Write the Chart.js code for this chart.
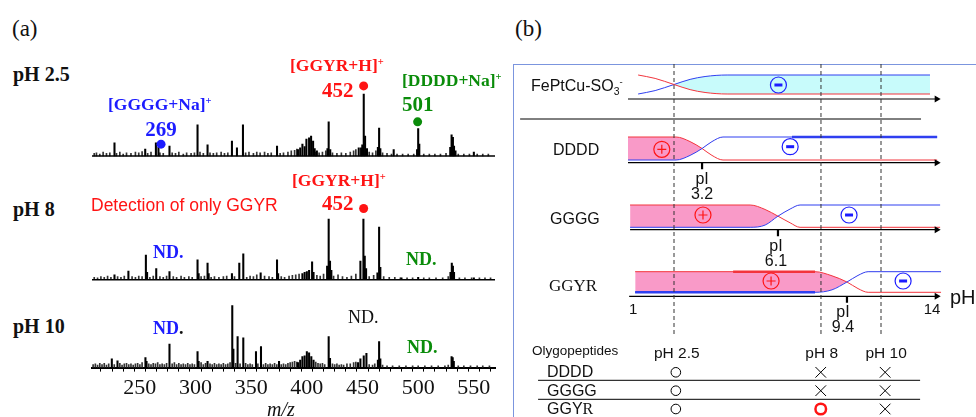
<!DOCTYPE html>
<html>
<head>
<meta charset="utf-8">
<title>MALDI spectra and charge states</title>
<script src="https://cdn.jsdelivr.net/npm/chart.js@4.4.1/dist/chart.umd.min.js"></script>
<style>
  html, body { margin: 0; padding: 0; background: #fff; }
  #page { position: relative; width: 976px; height: 417px; overflow: hidden;
          font-family: 'Liberation Sans', Arial, sans-serif; color: #111; }
  canvas { position: absolute; }
  #specChart { left: 80px; top: 70px; }
  #chargeChart { left: 513px; top: 64px; }
  #boxB { position: absolute; left: 513px; top: 64px; width: 600px; height: 600px;
          border-left: 1px solid #7b95de; border-top: 1px solid #7b95de; }
  .lbl { position: absolute; white-space: nowrap; line-height: 1; }
  .serif { font-family: 'Liberation Serif', 'Times New Roman', serif; }
  .b { font-weight: bold; }
  .lbl sup { font-size: 0.6em; position: relative; top: -0.6em; vertical-align: baseline; }
  .lbl sub { font-size: 0.65em; position: relative; top: 0.35em; vertical-align: baseline; }
</style>
</head>
<body>
<div id="page">
  <div id="boxB"></div>
  <canvas id="specChart" width="430" height="334"></canvas>
  <canvas id="chargeChart" width="463" height="353"></canvas>
</div>
<script>
// ===============================================
// DATA
// ===============================================

// (a) mass spectra: [m/z, relative intensity %]
const mzMin = 207, mzMax = 569;
const mzTickLabels = [250, 300, 350, 400, 450, 500, 550];

const peaksPH25 = [
  [227.2, 21], [254.8, 11], [264.4, 21], [266.7, 14], [276.6, 16], [301.8, 50], [310.8, 18],
  [332.7, 24], [337.2, 13], [342.6, 50], [373.2, 16], [392, 10], [394, 13], [396, 19], [398, 15],
  [399.6, 27], [402, 29], [403.8, 32], [405.6, 24], [407, 12], [409, 8], [418.5, 12], [419.6, 55],
  [421, 10], [446.6, 13], [448.7, 13], [449.8, 18], [451.1, 100], [452.3, 32], [454, 12],
  [463.8, 14], [464.9, 45], [466, 12], [478, 10], [499, 10], [500, 44], [501, 19],
  [528.8, 14], [530, 34], [531.2, 30], [532.2, 16], [533.5, 8], [550, 6]
];
const peaksPH8 = [
  [227.2, 8], [239.7, 14], [255.4, 40], [256.5, 12], [264.7, 18], [276.6, 13], [301.8, 32],
  [302.8, 10], [310.8, 27], [311.8, 10], [332.7, 10], [339.3, 27], [342.9, 42], [358.5, 11],
  [373.2, 32], [374.2, 10], [396, 10], [398, 12], [400, 13], [402, 15], [404.7, 29], [406, 12],
  [418.2, 22], [419.6, 98], [420.8, 30], [422, 15], [448.1, 30], [450.8, 98], [452, 38],
  [453.2, 18], [463.4, 11], [464.9, 85], [466, 20], [485, 3], [500, 4], [529, 12], [530.2, 27],
  [531.2, 22], [532.2, 12], [550, 3]
];
const peaksPH10 = [
  [224.8, 14], [229.9, 11], [255, 16], [256, 10], [276.6, 38], [301.8, 26], [302.8, 10],
  [310.8, 10], [333, 100], [334, 30], [337.8, 50], [342.9, 48], [354.3, 26], [358.8, 34],
  [375, 10], [392, 8], [394, 12], [396, 18], [398, 19], [400, 26], [402, 24], [404, 18],
  [406, 12], [419.6, 50], [420.8, 15], [446, 8], [448.1, 14], [451.1, 19], [453.5, 23],
  [463.8, 12], [464.9, 42], [466, 14], [530, 18], [531, 16], [532, 10]
];

// baseline noise, same format
const noisePH25 = [
  [209, 4], [211, 5], [214, 3], [217, 6], [220, 4], [223, 5], [229, 4], [232, 6], [235, 3], [238, 5],
  [242, 4], [246, 6], [249, 5], [252, 7], [257, 4], [260, 6], [268, 5], [271, 4], [279, 5], [282, 4],
  [285, 6], [289, 3], [292, 5], [296, 4], [299, 5], [304, 6], [307, 4], [313, 5], [316, 4], [319, 5],
  [323, 6], [326, 4], [329, 5], [345, 5], [348, 6], [352, 4], [355, 6], [358, 5], [362, 6], [365, 4],
  [368, 5], [376, 4], [379, 5], [383, 6], [386, 8], [389, 9], [391, 11], [408, 6], [411, 5], [414, 6],
  [417, 8], [423, 5], [427, 4], [431, 5], [435, 4], [439, 6], [442, 8], [444, 10], [456, 6], [459, 5],
  [462, 8], [468, 5], [472, 4], [476, 3], [481, 3], [486, 3], [491, 3], [496, 3], [505, 3], [510, 3],
  [515, 3], [520, 3], [525, 4], [536, 3], [541, 3], [546, 3], [553, 3], [558, 3], [563, 3]
];
const noisePH8 = [
  [209, 4], [212, 3], [215, 5], [218, 4], [221, 6], [224, 4], [230, 5], [233, 4], [236, 6], [243, 5],
  [246, 4], [249, 6], [252, 5], [259, 4], [262, 6], [268, 5], [271, 4], [274, 6], [280, 5], [283, 4],
  [287, 6], [290, 4], [294, 5], [297, 4], [305, 5], [308, 6], [314, 4], [317, 5], [321, 4], [325, 5],
  [328, 6], [335, 5], [346, 4], [349, 6], [352, 5], [355, 8], [362, 6], [366, 5], [369, 4], [377, 5],
  [380, 4], [384, 6], [387, 7], [390, 8], [393, 9], [409, 7], [412, 6], [415, 9], [424, 6], [428, 8],
  [432, 5], [436, 4], [440, 6], [444, 9], [456, 5], [460, 7], [469, 5], [474, 4], [479, 4], [484, 3],
  [490, 3], [495, 3], [505, 3], [510, 3], [516, 3], [522, 3], [527, 5], [537, 3], [542, 3], [548, 3],
  [555, 3], [560, 3], [565, 3]
];
const noisePH10 = [
  [208, 5], [210, 6], [212, 4], [214, 7], [216, 5], [218, 7], [220, 4], [222, 6], [227, 5], [232, 7],
  [234, 4], [236, 6], [238, 7], [240, 5], [242, 6], [244, 4], [246, 6], [248, 7], [250, 5], [252, 8],
  [258, 6], [260, 5], [262, 7], [264, 6], [266, 8], [268, 5], [270, 6], [272, 5], [274, 7], [279, 6],
  [281, 8], [283, 5], [285, 7], [287, 5], [289, 6], [291, 5], [293, 7], [295, 5], [297, 6], [299, 5],
  [305, 8], [307, 5], [309, 7], [313, 6], [315, 5], [317, 7], [319, 5], [321, 6], [323, 5], [325, 7],
  [327, 5], [329, 6], [331, 8], [336, 7], [340, 6], [345, 7], [347, 5], [349, 6], [351, 5], [356, 6],
  [361, 5], [363, 7], [365, 5], [367, 6], [369, 5], [371, 7], [373, 5], [377, 5], [379, 6], [381, 5],
  [383, 7], [385, 8], [387, 9], [389, 10], [391, 9], [408, 9], [410, 7], [412, 6], [414, 7], [416, 5],
  [423, 6], [425, 5], [427, 6], [429, 4], [431, 5], [433, 4], [436, 6], [439, 6], [442, 8], [444, 9],
  [456, 5], [459, 4], [461, 6], [468, 4], [472, 3], [477, 3], [483, 3], [489, 3], [495, 3], [500, 3],
  [506, 3], [512, 3], [518, 3], [524, 3], [527, 4], [536, 3], [541, 3], [547, 3], [553, 3], [558, 3],
  [564, 3]
];

// annotated peaks (dot above the peak)
const markerSpectrum = ['pH 2.5', 'pH 2.5', 'pH 2.5', 'pH 8'];
const markerMz = [269, 451, 499.5, 451];
const markerLevel = [19, 113, 55, 115];

// (b) charge schematic: positions along the drawn pH axis (1 ... 14), charge fractions 0..1
const feptX = [1.22, 1.96, 2.78, 3.48, 4.13, 5.09, 13.91];
const feptPlus = [1, 0.82, 0.5, 0.23, 0.08, 0, 0];
const feptMinus = [0, 0.18, 0.5, 0.77, 0.92, 1, 1];

const ddddX = [0.78, 2.87, 3.48, 4.0, 4.43, 4.91, 14.22];
const ddddPlus = [1, 1, 0.8, 0.5, 0.2, 0, 0];
const ddddMinus = [0, 0, 0.2, 0.5, 0.8, 1, 1];

const ggggX = [0.87, 6.09, 6.74, 7.30, 7.83, 8.26, 14.35];
const ggggPlus = [1, 1, 0.8, 0.5, 0.2, 0, 0];
const ggggMinus = [0, 0, 0.1, 0.5, 0.82, 1, 1];

const ggyrX = [1.09, 8.91, 9.65, 10.30, 10.78, 11.22, 14.39];
const ggyrPlus = [1, 1, 0.8, 0.5, 0.18, 0, 0];
const ggyrMinus = [0, 0, 0.12, 0.5, 0.82, 1, 1];

const pIValues = ['3.2', '6.1', '9.4'];
const pIPos = [4.0, 7.30, 10.30];
const axisEnds = ['1', '14'];
const guidePos = [2.78, 9.17, 11.78];   // pH 2.5, 8, 10 guides

const peptides = ['DDDD', 'GGGG', 'GGYR'];
const phConditions = ['pH 2.5', 'pH 8', 'pH 10'];
const detected = [
  [true, false, false],
  [true, false, false],
  [true, true, false]
];

// ===============================================
// STYLE / LAYOUT
// ===============================================
const RED = '#ff1414', BLUE = '#1c1cff', GREEN = '#0a8c0a';
const LINE_RED = '#f3343c', LINE_BLUE = '#2f3ff0';
const PINK = '#f99ac8', CYAN = '#c8fbfb';

const spectrumBase = { 'pH 2.5': 212, 'pH 8': 88, 'pH 10': 0 };
const intensityScale = 0.62;

// y positions in the schematic canvas (0 = top edge)
const rowFept = { top: 11, bottom: 30, axis: 35, start: 0.78 };
const rowDddd = { top: 73, bottom: 96, axis: 98.7, start: 0.78 };
const rowGggg = { top: 141, bottom: 163.3, axis: 165.7, start: 0.87 };
const rowGgyr = { top: 207.7, bottom: 228.3, axis: 232.3, start: 0.83 };
const tableColX = [2.86, 9.16, 11.96];
const tableRowY = [308.3, 326.7, 345];

// ===============================================
// PANEL (a) SPECTRA
// ===============================================
function floatingBars(list, base) {
  return list.map(([mz, rel]) => ({ x: mz, y: [base, base + rel * intensityScale] }));
}

const spectra = [
  { name: 'pH 2.5', peaks: peaksPH25, noise: noisePH25 },
  { name: 'pH 8', peaks: peaksPH8, noise: noisePH8 },
  { name: 'pH 10', peaks: peaksPH10, noise: noisePH10 }
];

const specDatasets = [];
spectra.forEach(s => {
  const base = spectrumBase[s.name];
  specDatasets.push({
    type: 'bar', data: floatingBars(s.noise, base), backgroundColor: '#333',
    barThickness: 1, grouped: false, order: 2
  });
  specDatasets.push({
    type: 'bar', data: floatingBars(s.peaks, base), backgroundColor: '#000',
    barThickness: 1.4, grouped: false, order: 1
  });
  if (base > 0) {
    specDatasets.push({
      type: 'line', data: [{ x: mzMin, y: base }, { x: mzMax, y: base }],
      borderColor: '#000', borderWidth: 1.5, pointRadius: 0, order: 1
    });
  }
});

const markerColors = [BLUE, RED, GREEN, RED];
markerMz.forEach((mz, i) => {
  specDatasets.push({
    type: 'line', showLine: false, clip: false, order: 0,
    data: [{ x: mz, y: spectrumBase[markerSpectrum[i]] + markerLevel[i] * intensityScale }],
    pointRadius: 4.5, pointBackgroundColor: markerColors[i], pointBorderWidth: 0
  });
});

new Chart(document.getElementById('specChart'), {
  type: 'bar',
  data: { datasets: specDatasets },
  options: {
    animation: false,
    responsive: false,
    layout: { padding: { left: 12, right: 15, top: 8, bottom: 0 }, autoPadding: false },
    plugins: { legend: { display: false }, tooltip: { enabled: false } },
    scales: {
      x: {
        type: 'linear', min: mzMin, max: mzMax, offset: false,
        ticks: {
          stepSize: 10, includeBounds: false, autoSkip: false, maxRotation: 0, padding: 3,
          color: '#111', font: { family: "'Liberation Serif', serif", size: 22 },
          callback: v => mzTickLabels.includes(v) ? v : ''
        },
        grid: { display: true, drawOnChartArea: false, tickLength: 4, color: '#000', lineWidth: 1 },
        border: { display: true, color: '#000', width: 2 }
      },
      y: { display: false, min: 0, max: 290 }
    }
  }
});

// ===============================================
// PANEL (b) CHARGE SCHEMATIC
// ===============================================
const bDatasets = [];
function addLine(points, style) {
  bDatasets.push(Object.assign({
    type: 'line', data: points, pointRadius: 0, borderWidth: 1, borderColor: '#000',
    tension: 0, fill: false, order: 1
  }, style));
  return bDatasets.length - 1;
}

const chargeRows = [
  { row: rowFept, x: feptX, plus: feptPlus, minus: feptMinus, shade: 'minus' },
  { row: rowDddd, x: ddddX, plus: ddddPlus, minus: ddddMinus, shade: 'plus' },
  { row: rowGggg, x: ggggX, plus: ggggPlus, minus: ggggMinus, shade: 'plus' },
  { row: rowGgyr, x: ggyrX, plus: ggyrPlus, minus: ggyrMinus, shade: 'plus' }
];

const levelY = (row, f) => row.bottom - f * (row.bottom - row.top);

chargeRows.forEach(c => {
  const plusPts = c.x.map((x, i) => ({ x, y: levelY(c.row, c.plus[i]) }));
  const minusPts = c.x.map((x, i) => ({ x, y: levelY(c.row, c.minus[i]) }));
  const iPlus = bDatasets.length, iMinus = iPlus + 1;
  addLine(plusPts, {
    borderColor: LINE_RED, cubicInterpolationMode: 'monotone',
    order: c.shade === 'plus' ? 3 : 2,
    fill: c.shade === 'plus' ? { target: iMinus, above: PINK, below: 'rgba(0,0,0,0)' } : false
  });
  addLine(minusPts, {
    borderColor: LINE_BLUE, cubicInterpolationMode: 'monotone',
    order: c.shade === 'minus' ? 3 : 2,
    fill: c.shade === 'minus' ? { target: iPlus, above: CYAN, below: 'rgba(0,0,0,0)' } : false
  });
  // pH axis arrow under each row
  addLine([{ x: c.row.start, y: c.row.axis }, { x: 14.2, y: c.row.axis }], {
    borderWidth: 1.2, pointRadius: [0, 4], pointStyle: 'triangle', pointRotation: 90,
    pointBackgroundColor: '#000', pointBorderWidth: 0
  });
});

// thicker stretches of the level lines
addLine([{ x: 7.91, y: levelY(rowDddd, 1) }, { x: 14.22, y: levelY(rowDddd, 1) }], { borderColor: LINE_BLUE, borderWidth: 2.6 });
addLine([{ x: 5.35, y: levelY(rowGgyr, 1) }, { x: 8.91, y: levelY(rowGgyr, 1) }], { borderColor: LINE_RED, borderWidth: 2.4 });
addLine([{ x: 1.09, y: levelY(rowGgyr, 0) }, { x: 8.91, y: levelY(rowGgyr, 0) }], { borderColor: LINE_BLUE, borderWidth: 2.4 });

// separator between surface and peptides
addLine([{ x: -3.91, y: 55 }, { x: 13.52, y: 55 }], { borderWidth: 1 });

// pI ticks
[rowDddd, rowGggg, rowGgyr].forEach((row, i) => {
  addLine([{ x: pIPos[i], y: row.axis }, { x: pIPos[i], y: row.axis + 6.5 }], { borderWidth: 2.2 });
});

// dashed pH guides
guidePos.forEach(x => {
  addLine([{ x, y: 0 }, { x, y: 273 }], { borderColor: '#333', borderDash: [4, 3], order: 0 });
});

// charge symbols (circle + sign)
const plusMarks = [
  { x: 2.25, y: 85.3 }, { x: 4.04, y: 151 }, { x: 7.0, y: 217 }
];
const minusMarks = [
  { x: 7.32, y: 21 }, { x: 7.83, y: 82.7 }, { x: 10.39, y: 151 }, { x: 12.74, y: 217 }
];
addLine(plusMarks, { showLine: false, pointRadius: 8, pointStyle: 'circle', pointBorderColor: RED, pointBorderWidth: 1.2, pointBackgroundColor: 'rgba(0,0,0,0)', order: 0 });
addLine(plusMarks, { showLine: false, pointRadius: 4.5, pointStyle: 'cross', pointBorderColor: RED, pointBorderWidth: 1.2, order: 0 });
addLine(minusMarks, { showLine: false, pointRadius: 8, pointStyle: 'circle', pointBorderColor: BLUE, pointBorderWidth: 1.2, pointBackgroundColor: 'rgba(0,0,0,0)', order: 0 });
addLine(minusMarks, { showLine: false, pointRadius: 4, pointStyle: 'line', pointBorderColor: BLUE, pointBorderWidth: 3, order: 0 });

// detection table symbols
const yesPts = [], yesRedPts = [], noPts = [];
detected.forEach((rowVals, r) => rowVals.forEach((ok, c) => {
  const pt = { x: tableColX[c], y: tableRowY[r] };
  if (!ok) noPts.push(pt);
  else if (phConditions[c] === 'pH 8') yesRedPts.push(pt);
  else yesPts.push(pt);
}));
addLine(yesPts, { showLine: false, pointRadius: 4.8, pointStyle: 'circle', pointBorderColor: '#000', pointBorderWidth: 1, pointBackgroundColor: 'rgba(0,0,0,0)', order: 0 });
addLine(yesRedPts, { showLine: false, pointRadius: 5.3, pointStyle: 'circle', pointBorderColor: RED, pointBorderWidth: 2.5, pointBackgroundColor: 'rgba(0,0,0,0)', order: 0 });
addLine(noPts, { showLine: false, pointRadius: 7.5, pointStyle: 'crossRot', pointBorderColor: '#000', pointBorderWidth: 1, order: 0 });
// table rules
addLine([{ x: -3.13, y: 316.3 }, { x: 13.48, y: 316.3 }], { borderWidth: 1 });
addLine([{ x: -3.13, y: 335.3 }, { x: 13.48, y: 335.3 }], { borderWidth: 1 });

const chargeChart = new Chart(document.getElementById('chargeChart'), {
  type: 'line',
  data: { datasets: bDatasets },
  options: {
    animation: false,
    responsive: false,
    layout: { padding: 0, autoPadding: false },
    plugins: { legend: { display: false }, tooltip: { enabled: false } },
    scales: {
      x: { type: 'linear', display: false, min: -4.22, max: 15.91 },
      y: { display: false, min: 0, max: 353, reverse: true }
    }
  }
});

// ===============================================
// TEXT
// ===============================================
const page = document.getElementById('page');
function addLabel(html, x, y, o) {
  const d = document.createElement('div');
  d.className = 'lbl ' + (o.cls || '');
  d.innerHTML = html;
  d.style.left = x + 'px';
  d.style.top = y + 'px';
  d.style.fontSize = o.size + 'px';
  if (o.color) d.style.color = o.color;
  d.style.transform = o.center ? 'translate(-50%,-50%)' : 'translateY(-50%)';
  page.appendChild(d);
}

// panel (a)
addLabel('(a)', 12, 28, { cls: 'serif', size: 23 });
addLabel('pH 2.5', 13, 74, { cls: 'serif b', size: 20 });
addLabel('pH 8', 13, 209, { cls: 'serif b', size: 20 });
addLabel('pH 10', 13, 326, { cls: 'serif b', size: 20 });
addLabel('[GGGG+Na]<sup>+</sup>', 108, 105, { cls: 'serif b', size: 17.5, color: BLUE });
addLabel('269', 161, 129, { cls: 'serif b', size: 21, color: BLUE, center: true });
addLabel('[GGYR+H]<sup>+</sup>', 290, 66, { cls: 'serif b', size: 17.5, color: RED });
addLabel('452', 322, 90, { cls: 'serif b', size: 21, color: RED });
addLabel('[DDDD+Na]<sup>+</sup>', 402, 81, { cls: 'serif b', size: 17.5, color: GREEN });
addLabel('501', 402, 103.5, { cls: 'serif b', size: 21, color: GREEN });
addLabel('[GGYR+H]<sup>+</sup>', 292, 181, { cls: 'serif b', size: 17.5, color: RED });
addLabel('452', 322, 203, { cls: 'serif b', size: 21, color: RED });
addLabel('Detection of only GGYR', 91, 206, { size: 17.5, color: RED });
addLabel('ND.', 153, 252, { cls: 'serif b', size: 18, color: BLUE });
addLabel('ND.', 406, 259, { cls: 'serif b', size: 18, color: GREEN });
addLabel('ND<span style="color:#111">.</span>', 153, 328, { cls: 'serif b', size: 18, color: BLUE });
addLabel('ND.', 348, 317, { cls: 'serif', size: 18 });
addLabel('ND.', 407, 347, { cls: 'serif b', size: 18, color: GREEN });
addLabel('<i>m/z</i>', 281, 409, { cls: 'serif', size: 20, center: true });

// panel (b)
const bx = v => 513 + chargeChart.scales.x.getPixelForValue(v);
const by = v => 64 + chargeChart.scales.y.getPixelForValue(v);
addLabel('(b)', 515, 28, { cls: 'serif', size: 23 });
addLabel('FePtCu-SO<sub>3</sub><sup>-</sup>', 531, 86, { size: 16 });
addLabel('DDDD', 553, 150, { size: 16 });
addLabel('GGGG', 550, 219, { size: 16 });
addLabel('GGYR', 549, 285, { cls: 'serif', size: 17 });
const pIShift = [0, -2, -4];
[rowDddd, rowGggg, rowGgyr].forEach((row, i) => {
  addLabel('pI', bx(pIPos[i]) + pIShift[i], by(row.axis) + 16, { size: 16, center: true });
  addLabel(pIValues[i], bx(pIPos[i]) + pIShift[i], by(row.axis) + 31, { size: 16, center: true });
});
addLabel(axisEnds[0], bx(1), by(rowGgyr.axis) + 12, { size: 15, center: true });
addLabel(axisEnds[1], bx(14), by(rowGgyr.axis) + 12, { size: 15, center: true });
addLabel('pH', 950, 297, { size: 20 });

addLabel('Olygopeptides', 532, 351, { size: 13.5 });
phConditions.forEach((t, c) => addLabel(t, bx(tableColX[c]) + 1, 352.5, { size: 15.5, center: true }));
peptides.forEach((p, r) => {
  const html = p === 'GGYR' ? 'GGY<span class="serif">R</span>' : p;
  addLabel(html, 547, by(tableRowY[r]), { size: 16 });
});
</script>
</body>
</html>
